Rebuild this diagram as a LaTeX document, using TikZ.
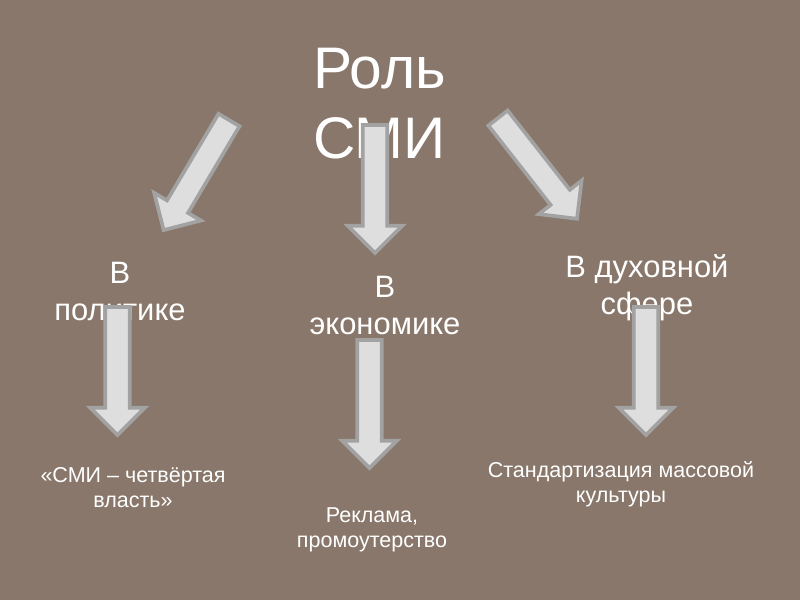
\documentclass[tikz,border=0pt]{standalone}
\usepackage{fontspec}
\setmainfont{Liberation Sans}
\usetikzlibrary{shapes.arrows, positioning}
\definecolor{stoneBg}{HTML}{88776A}
\definecolor{arrowFill}{HTML}{DEDEDE}
\definecolor{arrowEdge}{HTML}{A2A2A2}
\begin{document}
\begin{tikzpicture}[
    x=0.025cm, y=-0.025cm,
    title/.style={inner sep=0pt, align=left, text=white,
                  font=\fontsize{41.7pt}{49.8pt}\selectfont},
    sphere/.style={inner sep=0pt, align=center, text=white, anchor=north,
                   font=\fontsize{22pt}{26.3pt}\selectfont},
    effect/.style={inner sep=0pt, align=center, text=white, anchor=north,
                   font=\fontsize{15.3pt}{17.8pt}\selectfont},
    blockarrow/.style={single arrow, draw=arrowEdge, fill=arrowFill,
                       line width=2.6pt, inner xsep=0pt, inner ysep=2.6mm,
                       single arrow head extend=3.75mm, minimum height=32mm,
                       outer sep=0pt, anchor=tail},
  ]
    % BACKGROUND
    \fill[stoneBg] (0,0) rectangle (800,600);
    \useasboundingbox (0,0) rectangle (800,600);

    % TITLE
    \node[title, anchor=north west] (role) at (313,48) {Роль\\СМИ};

    % SPHERES
    \node[sphere] (polit) at (120,262) {В\\политике};
    \node[sphere] (econ) at (385,276) {В\\экономике};
    \node[sphere] (spirit) at (647,254) {В духовной\\сфере};

    % EFFECTS
    \node[effect] (power) at (133,467) {«СМИ – четвёртая\\власть»};
    \node[effect] (ads) at (372,507) {Реклама,\\промоутерство};
    \node[effect] (mass) at (621,461) {Стандартизация массовой\\культуры};

    % Arrows from the title
    \node[blockarrow, rotate=239.3] (aPolit) at (229,120) {};
    \node[blockarrow, rotate=-90] (aEcon) at (375,125) {};
    \node[blockarrow, rotate=-51.9] (aSpirit) at (498,118) {};

    % Arrows to the effects
    \node[blockarrow, rotate=-90] (aPower) at (117.5,307) {};
    \node[blockarrow, rotate=-90] (aAds) at (369.5,340) {};
    \node[blockarrow, rotate=-90] (aMass) at (646,307) {};
  \end{tikzpicture}
\end{document}
